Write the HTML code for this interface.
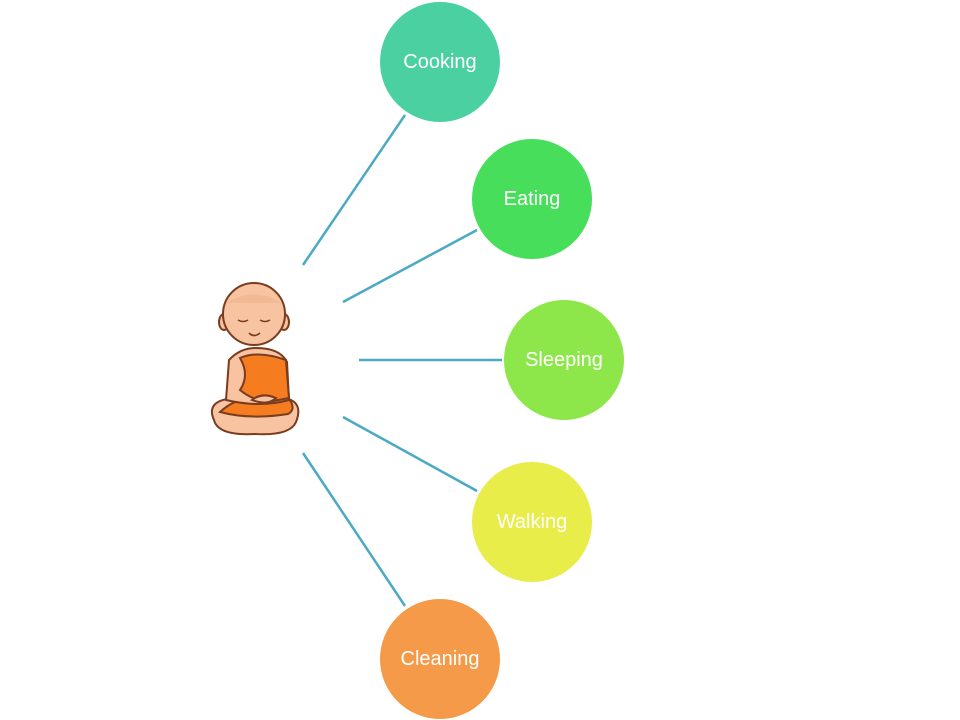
<!DOCTYPE html>
<html><head><style>
html,body{margin:0;padding:0;background:#fff;width:960px;height:720px;overflow:hidden}
svg{display:block}
text{font-family:"Liberation Sans",sans-serif;font-size:20px;fill:#fff;text-anchor:middle}
</style></head><body>
<svg width="960" height="720" viewBox="0 0 960 720">
<g stroke="#4aa9c3" stroke-width="2.5">
<line x1="303" y1="265" x2="405" y2="115"/>
<line x1="343" y1="302" x2="477" y2="230"/>
<line x1="359" y1="360" x2="502" y2="360"/>
<line x1="343" y1="417" x2="477" y2="491"/>
<line x1="303" y1="453" x2="405" y2="606"/>
</g>
<circle cx="440" cy="62" r="60" fill="#4bd0a2"/>
<circle cx="532" cy="199" r="60" fill="#47de5b"/>
<circle cx="564" cy="360" r="60" fill="#8ee74a"/>
<circle cx="532" cy="522" r="60" fill="#e8ed4a"/>
<circle cx="440" cy="659" r="60" fill="#f59a49"/>
<text x="440" y="68">Cooking</text>
<text x="532" y="205">Eating</text>
<text x="564" y="366">Sleeping</text>
<text x="532" y="528">Walking</text>
<text x="440" y="665">Cleaning</text>
<g stroke="#7a3b1e" stroke-width="2">
<path d="M214 420 Q205 400 235 398 L285 398 Q304 402 296 422 Q290 436 255 434 Q218 436 214 420Z" fill="#f7c3a0"/>
<path d="M220 412 Q235 398 255 398 L290 400 Q296 410 288 414 Q250 420 220 412Z" fill="#f57c1f"/>
<path d="M229 360 Q240 348 256 348 Q280 348 287 362 L289 400 Q260 408 226 400 Z" fill="#f7c3a0"/>
<path d="M240 358 Q258 350 286 360 L289 398 L268 402 Q252 400 240 390 Q250 375 240 358Z" fill="#f57c1f"/>
<path d="M252 400 Q262 392 276 398 Q268 406 252 400Z" fill="#f7c3a0"/>
<ellipse cx="224" cy="322" rx="5" ry="8" fill="#f7c3a0"/>
<ellipse cx="284" cy="322" rx="5" ry="8" fill="#f7c3a0"/>
<circle cx="254" cy="314" r="31" fill="#f7c3a0"/>
<path d="M226 303 Q254 286 282 303" stroke="none" fill="#eeb08a" opacity="0.5"/>
<path d="M238 320 Q243 323 248 320 M260 320 Q265 323 270 320 M249 333 Q254 338 260 333" fill="none" stroke-width="1.6"/>
</g>
</svg>
</body></html>
